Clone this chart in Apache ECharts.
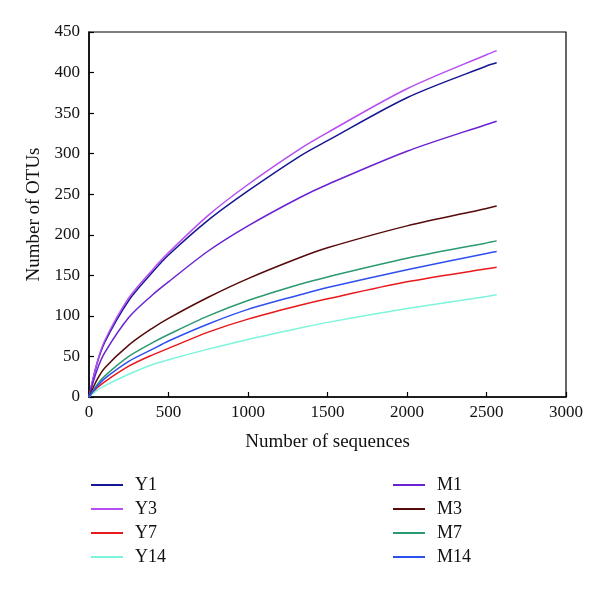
<!DOCTYPE html>
<html>
<head>
<meta charset="utf-8">
<script src="https://cdn.jsdelivr.net/npm/echarts@6/dist/echarts.min.js"></script>
<style>html,body{margin:0;padding:0;background:#fff}#c{width:600px;height:590px}</style>
</head>
<body>
<div id="c"></div>
<script>
// Number of sequences (x positions of sampled points)
const sequences = [0, 50, 100, 250, 400, 500, 750, 1000, 1327, 1500, 2000, 2500, 2564];
// Number of OTUs per sample
const Y1  = [0, 41, 68, 119, 154, 175, 218, 254, 297, 316, 369, 408, 412];
const Y3  = [0, 42, 70, 122, 157, 178, 224, 262, 306, 326, 380, 422, 427];
const Y7  = [0, 11, 19, 38, 52, 60, 80, 96, 113, 121, 142, 158, 160];
const Y14 = [0, 8, 14, 28, 40, 46, 59, 71, 85, 92, 109, 124, 126];
const M1  = [0, 33, 55, 98, 126, 142, 180, 211, 246, 262, 303, 336, 340];
const M3  = [0, 21, 36, 64, 85, 97, 123, 146, 172, 184, 211, 232.5, 235.5];
const M7  = [0, 15, 26, 50, 67, 77, 100, 119, 139, 148, 171, 190, 192.5];
const M14 = [0, 13, 23, 44, 59, 69, 90, 108, 126, 135, 157, 177, 179.5];

const seriesNames = ['Y1', 'Y3', 'Y7', 'Y14', 'M1', 'M3', 'M7', 'M14'];
const seriesValues = [Y1, Y3, Y7, Y14, M1, M3, M7, M14];
const seriesColors = ['#161693', '#b64ef2', '#e8181c', '#7ef4dc', '#6a22d2', '#560a0a', '#2b9a6e', '#2d4ff0'];
const xTicks = {min: 0, max: 3000, interval: 500};
const yTicks = {min: 0, max: 450, interval: 50};

const font = 'Liberation Serif';
const chart = echarts.init(document.getElementById('c'));
const series = seriesNames.map((n, i) => ({
  name: n,
  type: 'line',
  data: sequences.map((s, j) => [s, seriesValues[i][j]]),
  smooth: 0.3,
  symbol: 'none',
  lineStyle: {color: seriesColors[i], width: 1.5},
  itemStyle: {color: seriesColors[i]}
}));

const legendCommon = {
  orient: 'vertical',
  icon: 'rect',
  padding: 0,
  itemWidth: 32,
  itemHeight: 2,
  itemGap: 6,
  textStyle: {fontFamily: font, fontSize: 18, color: '#111', lineHeight: 18, padding: [0, 0, 0, 7]}
};

chart.setOption({
  animation: false,
  backgroundColor: '#fff',
  grid: {left: 89, right: 34, top: 32, bottom: 193, show: true, borderColor: '#000', borderWidth: 1.2, containLabel: false},
  xAxis: {
    type: 'value', min: xTicks.min, max: xTicks.max, interval: xTicks.interval,
    name: 'Number of sequences', nameLocation: 'middle', nameGap: 36,
    nameTextStyle: {fontFamily: font, fontSize: 19, color: '#111'},
    axisLine: {show: true, lineStyle: {color: '#000', width: 1.5}},
    axisTick: {show: true, inside: true, length: 5, lineStyle: {color: '#000', width: 1.2}},
    axisLabel: {fontFamily: font, fontSize: 17, color: '#111', margin: 7, formatter: v => String(v)},
    splitLine: {show: false}
  },
  yAxis: {
    type: 'value', min: yTicks.min, max: yTicks.max, interval: yTicks.interval,
    name: 'Number of OTUs', nameLocation: 'middle', nameGap: 44,
    nameTextStyle: {fontFamily: font, fontSize: 19, color: '#111'},
    axisLine: {show: true, lineStyle: {color: '#000', width: 1.5}},
    axisTick: {show: true, inside: true, length: 5, lineStyle: {color: '#000', width: 1.2}},
    axisLabel: {fontFamily: font, fontSize: 17, color: '#111', margin: 9, formatter: v => String(v)},
    splitLine: {show: false}
  },
  legend: [
    Object.assign({}, legendCommon, {left: 91, top: 476, data: ['Y1', 'Y3', 'Y7', 'Y14']}),
    Object.assign({}, legendCommon, {left: 393, top: 476, data: ['M1', 'M3', 'M7', 'M14']})
  ],
  series: series
});
</script>
</body>
</html>
